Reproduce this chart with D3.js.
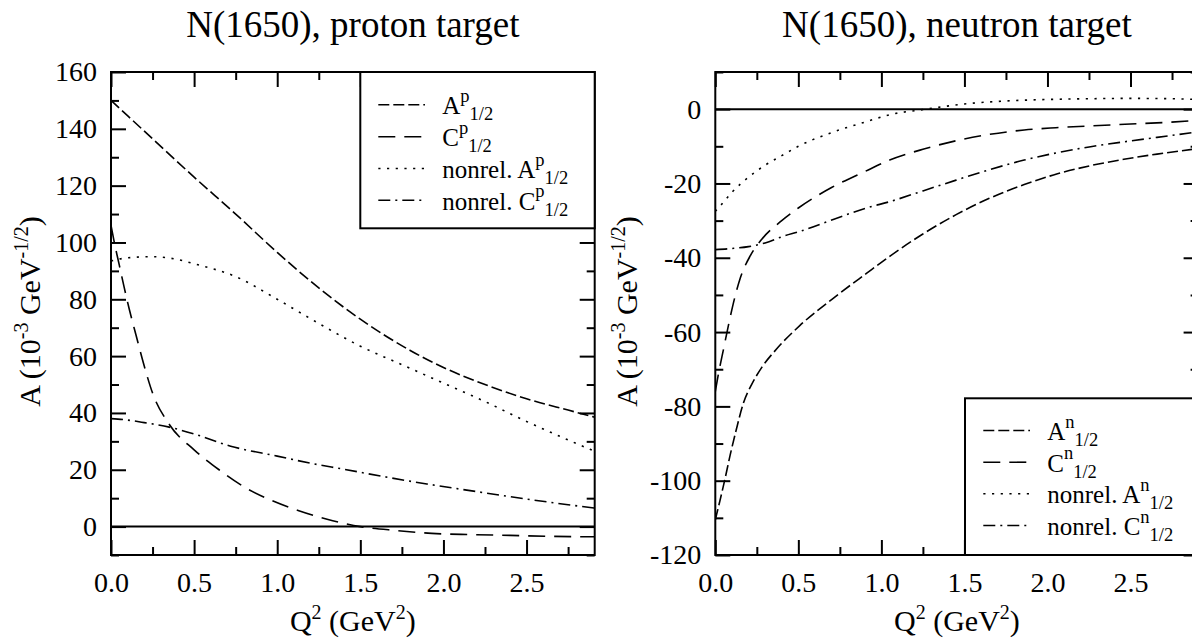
<!DOCTYPE html>
<html><head><meta charset="utf-8">
<script src="https://cdn.jsdelivr.net/npm/d3@7"></script>
<style>
body{margin:0;background:#fff}
svg{display:block}
svg text{font-family:"Liberation Serif","Times New Roman",serif !important;fill:#000}
</style>
</head><body>
<svg id="chart" width="1192" height="642" font-family="Liberation Serif, serif"></svg>
<script>
// ---------- data: proton target ----------
const pA_q  = [0,0.25,0.5,0.75,1.0,1.25,1.5,1.8,2.0,2.25,2.5,2.75,2.91];
const pA_v  = [150,136.5,123,110,96.5,84,73,62,56,50,45,41,38.5];
const pC_q  = [0,0.02,0.05,0.08,0.11,0.15,0.2,0.25,0.35,0.5,0.65,0.8,0.95,1.13,1.3,1.5,1.72,1.93,2.16,2.4,2.62,2.91];
const pC_v  = [106,100,92,84,76.5,67.5,56.5,47,36,27,20,14,9.6,5.6,2.6,0,-1.4,-2.4,-2.8,-3.1,-3.4,-3.6];
const pNA_q = [0,0.1,0.25,0.4,0.5,0.75,1.0,1.25,1.5,1.75,2.0,2.25,2.5,2.75,2.91];
const pNA_v = [93.5,94.6,95,94,92.5,88,80,71.5,63.5,57,50.5,44,37,30.5,26.5];
const pNC_q = [0,0.1,0.2,0.35,0.5,0.72,1.0,1.2,1.4,1.64,1.9,2.1,2.35,2.56,2.75,2.91];
const pNC_v = [38,37.5,36.6,35,32.6,28.3,24.8,22.3,20.2,17.6,15,13.2,11,9.2,7.7,6.5];

// ---------- data: neutron target ----------
const nA_q  = [0,0.03,0.056,0.09,0.125,0.17,0.22,0.28,0.37,0.51,0.71,0.91,1.05,1.25,1.45,1.65,1.86,2.06,2.26,2.46,2.66,2.91];
const nA_v  = [-110.5,-105,-100,-93,-86.5,-79,-74,-69.5,-64.5,-58.2,-50.9,-44.2,-39.6,-33.6,-28.4,-24,-20.3,-17.4,-15.2,-13.5,-12.1,-10.6];
const nC_q  = [0,0.02,0.05,0.08,0.11,0.15,0.21,0.28,0.4,0.5,0.7,0.9,1.05,1.25,1.45,1.65,1.86,2.05,2.26,2.5,2.7,2.91];
const nC_v  = [-76,-71,-64.5,-58,-52,-45.5,-39.5,-35,-30,-26.6,-21.1,-16.8,-13.7,-10.8,-8.5,-6.8,-5.6,-5,-4.5,-4,-3.6,-3];
const nNA_q = [0,0.05,0.1,0.2,0.3,0.4,0.5,0.7,0.9,1.05,1.27,1.5,1.75,2.0,2.25,2.5,2.75,2.91];
const nNA_v = [-27.5,-25,-22.4,-18.3,-15.1,-12.5,-10,-6.3,-3.5,-1.5,0,1.4,2.2,2.6,2.8,2.9,2.8,2.6];
const nNC_q = [0,0.1,0.2,0.3,0.41,0.51,0.71,0.91,1.05,1.25,1.45,1.65,1.86,2.05,2.26,2.46,2.66,2.91];
const nNC_v = [-37.8,-37.5,-37,-36,-34.2,-32.9,-29.7,-26.6,-24.9,-22,-19.1,-16.3,-13.7,-11.8,-10.1,-8.8,-7.6,-6.1];

// ---------- ticks & labels ----------
const xMajor = [0,0.5,1.0,1.5,2.0,2.5];
const xMinor = [0.25,0.75,1.25,1.75,2.25,2.75];
const xTickLabels = ["0.0","0.5","1.0","1.5","2.0","2.5"];
const pYMajor = [0,20,40,60,80,100,120,140,160];
const pYMinor = [-10,10,30,50,70,90,110,130,150];
const nYMajor = [-120,-100,-80,-60,-40,-20,0];
const nYMinor = [-110,-90,-70,-50,-30,-10,10];
const titles = ["N(1650), proton target","N(1650), neutron target"];
const seriesNames = ["A","C","nonrel. A","nonrel. C"];
const targetSup = ["p","n"];

// styles
const dashes = ["11,4","17,9","2.2,6.5","12,5,2,5"];
const FONT = '"Liberation Serif","Times New Roman",serif';
const FS_TICK = 28, FS_TITLE = 37, FS_LAB = 30, FS_LABSUP = 20, FS_LEG = 25, FS_SUB = 18.5;

const svg = d3.select("#chart");

const panels = [
  {x0:111, x1:594.7, y0:72, y1:555, yDom:[-10,160], yMajor:pYMajor, yMinor:pYMinor,
   series:[[pA_q,pA_v],[pC_q,pC_v],[pNA_q,pNA_v],[pNC_q,pNC_v]],
   leg:{bx:360.3, by:72, bw:594.7-360.3, bh:228.3-72, sx0:378.3, sx1:425, tx:442.3, base:[114.3,146.3,178,209.7]},
   ylabX:40, title:titles[0], sup:targetSup[0]},
  {x0:715.3, x1:1198.6, y0:72, y1:555, yDom:[-120,10], yMajor:nYMajor, yMinor:nYMinor,
   series:[[nA_q,nA_v],[nC_q,nC_v],[nNA_q,nNA_v],[nNC_q,nNC_v]],
   leg:{bx:965, by:398.3, bw:1198.6-965, bh:555-398.3, sx0:983.3, sx1:1030, tx:1047.3, base:[440,471.7,503.3,535]},
   ylabX:637, title:titles[1], sup:targetSup[1]}
];

panels.forEach((P,pi)=>{
  const x = d3.scaleLinear().domain([0,2.91]).range([P.x0,P.x1]);
  const y = d3.scaleLinear().domain(P.yDom).range([P.y1,P.y0]);
  const g = svg.append("g");
  const cid = "clip"+pi;
  g.append("clipPath").attr("id",cid).append("rect")
    .attr("x",P.x0).attr("y",P.y0).attr("width",P.x1-P.x0).attr("height",P.y1-P.y0);

  // zero line
  g.append("line").attr("x1",P.x0).attr("x2",P.x1).attr("y1",y(0)).attr("y2",y(0))
    .attr("stroke","#000").attr("stroke-width",2);

  // curves
  const line = d3.line().x(d=>x(d[0])).y(d=>y(d[1])).curve(d3.curveMonotoneX);
  P.series.forEach((s,i)=>{
    const pts = s[0].map((q,k)=>[q,s[1][k]]);
    g.append("path").attr("d",line(pts)).attr("fill","none").attr("stroke","#000")
      .attr("stroke-width",1.6).attr("stroke-dasharray",dashes[i]).attr("clip-path",`url(#${cid})`);
  });

  // axes (inward ticks on four sides)
  const mk = (axisFn, scale, vals, size, fmt) => axisFn(scale).tickValues(vals).tickSize(size).tickFormat(fmt);
  const styleAxis = sel => {
    sel.attr("font-family",FONT).attr("font-size",FS_TICK);
    sel.select(".domain").remove();
    sel.selectAll(".tick line").attr("stroke","#000").attr("stroke-width",2);
    sel.selectAll("text").style("font-size",FS_TICK+"px").style("font-family",FONT);
  };
  g.append("g").attr("transform",`translate(0,${P.y1})`)
    .call(mk(d3.axisBottom,x,xMajor,-15,(d,i)=>xTickLabels[i]).tickPadding(17)).call(styleAxis);
  g.append("g").attr("transform",`translate(0,${P.y1})`)
    .call(mk(d3.axisBottom,x,xMinor,-8,()=>"")).call(styleAxis);
  g.append("g").attr("transform",`translate(0,${P.y0})`)
    .call(mk(d3.axisTop,x,xMajor,-15,()=>"")).call(styleAxis);
  g.append("g").attr("transform",`translate(0,${P.y0})`)
    .call(mk(d3.axisTop,x,xMinor,-8,()=>"")).call(styleAxis);
  g.append("g").attr("transform",`translate(${P.x0},0)`)
    .call(mk(d3.axisLeft,y,P.yMajor,-15,d=>String(d)).tickPadding(14)).call(styleAxis);
  g.append("g").attr("transform",`translate(${P.x0},0)`)
    .call(mk(d3.axisLeft,y,P.yMinor,-8,()=>"")).call(styleAxis);
  g.append("g").attr("transform",`translate(${P.x1},0)`)
    .call(mk(d3.axisRight,y,P.yMajor,-15,()=>"")).call(styleAxis);
  g.append("g").attr("transform",`translate(${P.x1},0)`)
    .call(mk(d3.axisRight,y,P.yMinor,-8,()=>"")).call(styleAxis);

  // frame
  g.append("rect").attr("x",P.x0).attr("y",P.y0).attr("width",P.x1-P.x0).attr("height",P.y1-P.y0)
    .attr("fill","none").attr("stroke","#000").attr("stroke-width",2);

  // legend
  const L = P.leg;
  g.append("rect").attr("x",L.bx).attr("y",L.by).attr("width",L.bw).attr("height",L.bh)
    .attr("fill","#fff").attr("stroke","#000").attr("stroke-width",2);
  seriesNames.forEach((nm,i)=>{
    const b = L.base[i];
    g.append("line").attr("x1",L.sx0).attr("x2",L.sx1).attr("y1",b-9.5).attr("y2",b-9.5)
      .attr("stroke","#000").attr("stroke-width",1.6).attr("stroke-dasharray",dashes[i]);
    const t = g.append("text").attr("x",L.tx).attr("y",b).style("font-size",FS_LEG+"px");
    t.append("tspan").text(nm);
    t.append("tspan").attr("dy",-12.5).style("font-size",FS_SUB+"px").text(P.sup);
    t.append("tspan").attr("dy",18.5).style("font-size",FS_SUB+"px").text("1/2");
  });

  // title
  g.append("text").attr("x",(P.x0+P.x1)/2).attr("y",37).attr("text-anchor","middle")
    .style("font-size",FS_TITLE+"px").text(P.title);

  // x label
  const xl = g.append("text").attr("x",(P.x0+P.x1)/2).attr("y",631).attr("text-anchor","middle")
    .style("font-size",FS_LAB+"px");
  xl.append("tspan").text("Q");
  xl.append("tspan").attr("dy",-12).style("font-size",FS_LABSUP+"px").text("2");
  xl.append("tspan").attr("dy",12).text(" (GeV");
  xl.append("tspan").attr("dy",-12).style("font-size",FS_LABSUP+"px").text("2");
  xl.append("tspan").attr("dy",12).text(")");

  // y label
  const yl = g.append("text").attr("transform",`translate(${P.ylabX},${(P.y0+P.y1)/2 - 2}) rotate(-90)`)
    .attr("text-anchor","middle").style("font-size",FS_LAB+"px");
  yl.append("tspan").text("A (10");
  yl.append("tspan").attr("dy",-12).style("font-size",FS_LABSUP+"px").text("-3");
  yl.append("tspan").attr("dy",12).text(" GeV");
  yl.append("tspan").attr("dy",-12).style("font-size",FS_LABSUP+"px").text("-1/2");
  yl.append("tspan").attr("dy",12).text(")");
});
</script>
</body></html>
